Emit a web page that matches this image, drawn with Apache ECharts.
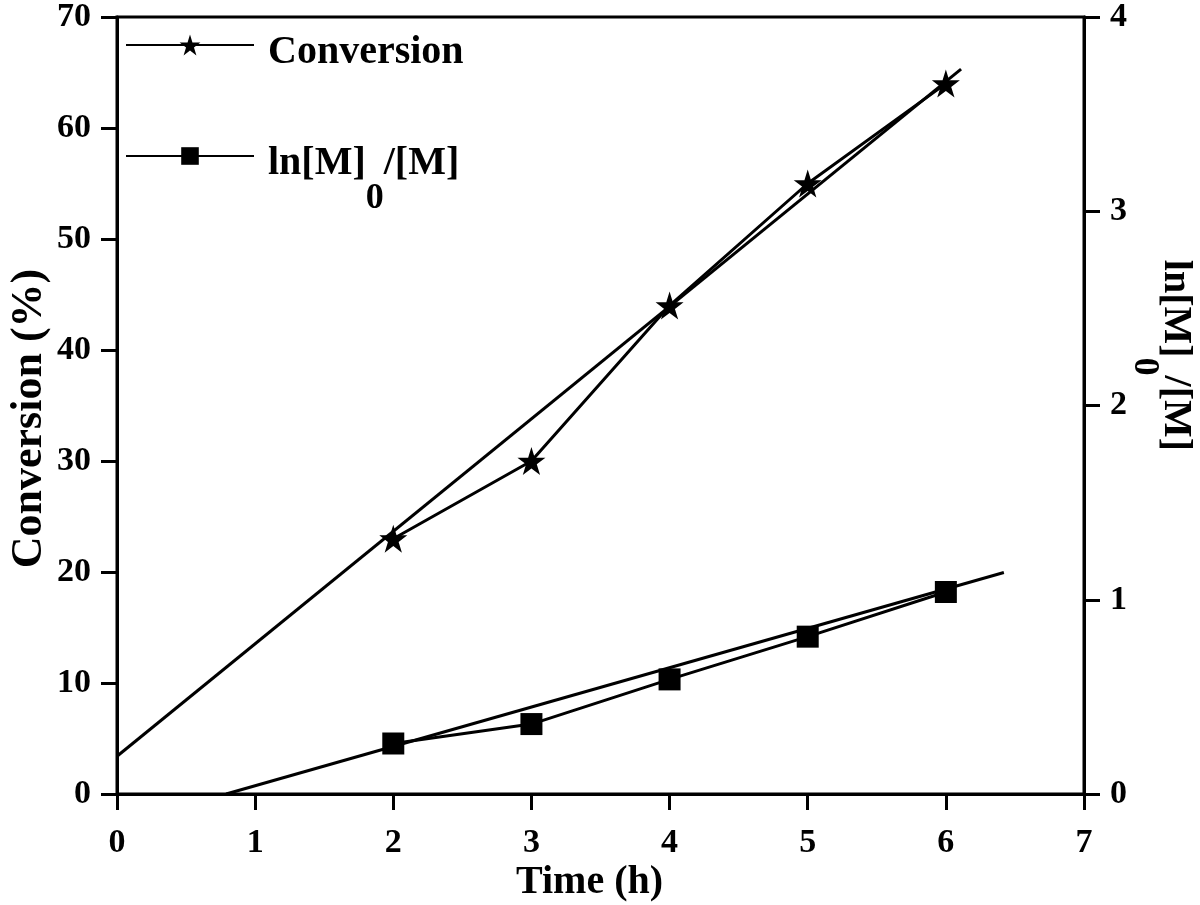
<!DOCTYPE html>
<html>
<head>
<meta charset="utf-8">
<script src="https://cdn.jsdelivr.net/npm/echarts@6/dist/echarts.min.js"></script>
<style>html,body{margin:0;padding:0;background:#fff;}#c{width:1200px;height:905px;}</style>
</head>
<body>
<div id="c"></div>
<script>
// ---- data ----
const timeH = [2, 3, 4, 5, 6];
const conversion = [23, 30, 44, 55, 64];          // %, left axis
const lnRatio = [0.26, 0.36, 0.59, 0.81, 1.04];    // ln[M]0/[M], right axis
const convFitX = [0, 6.11];
const convFitY = [3.4, 65.3];
const lnFitX = [0.79, 6.42];
const lnFitY = [0, 1.14];
const xTicks = [0, 1, 2, 3, 4, 5, 6, 7];
const leftTicks = [0, 10, 20, 30, 40, 50, 60, 70];
const rightTicks = [0, 1, 2, 3, 4];

const FONT = "'Liberation Serif','Times New Roman',serif";
const STAR = 'path://M50,0 L61.2,34.5 L97.6,34.5 L68.2,55.9 L79.4,90.5 L50,69.1 L20.6,90.5 L31.8,55.9 L2.4,34.5 L38.8,34.5 Z';
const pair = (xs, ys) => xs.map((x, i) => [x, ys[i]]);

const subRich = {
  a: { fontFamily: FONT, fontWeight: 'bold', fontSize: 40, lineHeight: 44, color: '#000', verticalAlign: 'middle' },
  s: { fontFamily: FONT, fontWeight: 'bold', fontSize: 36, lineHeight: 36, color: '#000', padding: [35, 0, 0, 0], verticalAlign: 'top' }
};
const legendRich = {
  a: { fontFamily: FONT, fontWeight: 'bold', fontSize: 40, lineHeight: 44, color: '#000', verticalAlign: 'middle', padding: [16, 0, 0, 0] },
  s: { fontFamily: FONT, fontWeight: 'bold', fontSize: 36, lineHeight: 36, color: '#000', padding: [47, 0, 0, 0], verticalAlign: 'top' }
};
const lnLabel = '{a|ln[M]}{s|0}{a|/[M]}';

const chart = echarts.init(document.getElementById('c'), null, { renderer: 'canvas' });
const lineStyle = { color: '#000', width: 3 };
chart.setOption({
  animation: false,
  backgroundColor: '#fff',
  grid: { left: 117, right: 116, top: 17, bottom: 111, outerBoundsMode: 'none', containLabel: false,
          show: true, borderColor: '#000', borderWidth: 3, backgroundColor: 'transparent' },
  legend: [
    {
      data: ['Conversion'], orient: 'vertical', left: 120, top: 12,
      itemWidth: 128, itemHeight: 26,
      formatter: (n) => '{a|' + n + '}{s| }',
      textStyle: { color: '#000', padding: [0, 0, 0, 9], rich: legendRich }
    },
    {
      data: ['lnM'], orient: 'vertical', left: 120, top: 123,
      itemWidth: 128, itemHeight: 22,
      formatter: () => lnLabel,
      textStyle: { color: '#000', padding: [0, 0, 0, 9], rich: legendRich }
    }
  ],
  xAxis: {
    type: 'value', min: xTicks[0], max: xTicks[xTicks.length - 1], interval: 1,
    name: 'Time (h)', nameLocation: 'middle', nameGap: 69, nameMoveOverlap: false,
    nameTextStyle: { fontFamily: FONT, fontWeight: 'bold', fontSize: 40, lineHeight: 40, color: '#000', padding: [0, 22, 0, 0] },
    axisLine: { lineStyle: { color: '#000', width: 3 } },
    axisTick: { length: 16, lineStyle: { color: '#000', width: 3 } },
    axisLabel: { margin: 32, fontFamily: FONT, fontWeight: 'bold', fontSize: 34, color: '#000' },
    splitLine: { show: false }
  },
  yAxis: [
    {
      type: 'value', min: leftTicks[0], max: leftTicks[leftTicks.length - 1], interval: 10, position: 'left',
      name: 'Conversion (%)', nameLocation: 'middle', nameGap: 65, nameMoveOverlap: false,
      nameTextStyle: { fontFamily: FONT, fontWeight: 'bold', fontSize: 44, lineHeight: 44, color: '#000', padding: [0, 26, 0, 0] },
      axisLine: { show: true, lineStyle: { color: '#000', width: 3 } },
      axisTick: { show: true, length: 16, lineStyle: { color: '#000', width: 3 } },
      axisLabel: { margin: 26, fontFamily: FONT, fontWeight: 'bold', fontSize: 34, color: '#000' },
      splitLine: { show: false }
    },
    {
      type: 'value', min: rightTicks[0], max: rightTicks[rightTicks.length - 1], interval: 1, position: 'right',
      name: lnLabel, nameLocation: 'middle', nameGap: 69, nameRotate: -90, nameMoveOverlap: false,
      nameTextStyle: { rich: subRich, padding: [0, 100, 0, 0] },
      axisLine: { show: true, lineStyle: { color: '#000', width: 3 } },
      axisTick: { show: true, length: 16, lineStyle: { color: '#000', width: 3 } },
      axisLabel: { margin: 26, fontFamily: FONT, fontWeight: 'bold', fontSize: 34, color: '#000' },
      splitLine: { show: false }
    }
  ],
  series: [
    {
      name: 'Conversion', type: 'line', yAxisIndex: 0, data: pair(timeH, conversion),
      symbol: STAR, symbolSize: 28, showAllSymbol: true,
      itemStyle: { color: '#000' }, lineStyle: lineStyle, z: 3
    },
    {
      name: 'convFit', type: 'line', yAxisIndex: 0, data: pair(convFitX, convFitY),
      symbol: 'none', lineStyle: lineStyle, z: 2
    },
    {
      name: 'lnM', type: 'line', yAxisIndex: 1, data: pair(timeH, lnRatio),
      symbol: 'rect', symbolSize: 22, showAllSymbol: true,
      itemStyle: { color: '#000' }, lineStyle: lineStyle, z: 3
    },
    {
      name: 'lnFit', type: 'line', yAxisIndex: 1, data: pair(lnFitX, lnFitY),
      symbol: 'none', lineStyle: lineStyle, z: 2
    }
  ]
});
</script>
</body>
</html>
